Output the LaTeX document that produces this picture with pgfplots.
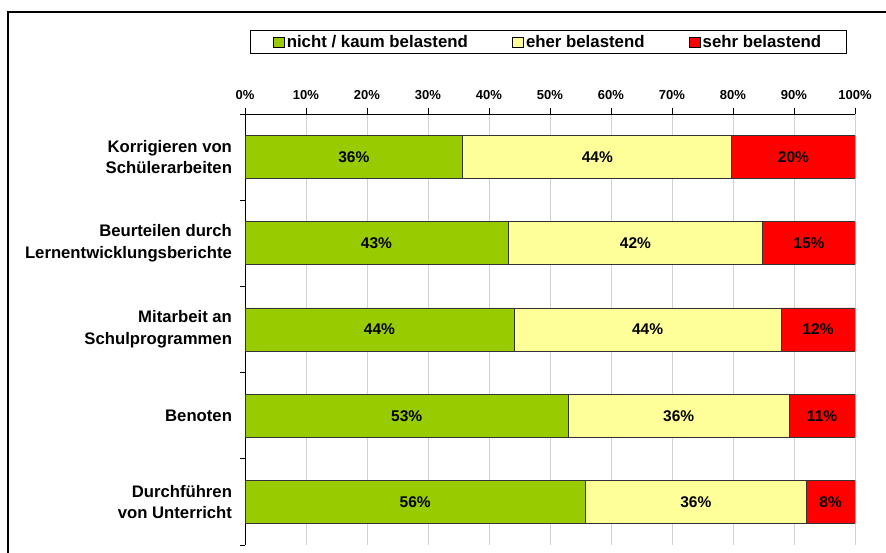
\documentclass[border=0pt]{standalone}
\usepackage{pgfplots}
\pgfplotsset{compat=1.18}
\usepackage{pgfplotstable}
\usepackage{fontspec}
\setmainfont{Liberation Sans}
\definecolor{cgreen}{HTML}{99CC00}
\definecolor{cyellow}{HTML}{FFFF99}
\definecolor{cred}{HTML}{FF0000}

\pgfplotstableread{
y green yellow red
0 35.7 44.1 20.2
1 43.1 41.8 15.1
2 44.1 43.8 12.1
3 53.0 36.2 10.8
4 55.8 36.2 8.0
}\data

\pgfplotstableread{
x y lab
17.85 0 36
57.75 0 44
89.9 0 20
21.55 1 43
64.0 1 42
92.45 1 15
22.05 2 44
66.0 2 44
93.95 2 12
26.5 3 53
71.1 3 36
94.6 3 11
27.9 4 56
73.9 4 36
96.0 4 8
}\labels

\pgfplotsset{
  common/.style={
    at={(245pt,8pt)}, anchor=south west,
    scale only axis, width=610pt, height=431pt,
    xmin=0, xmax=100, ymin=-0.5, ymax=4.5, y dir=reverse,
    enlargelimits=false,
  }
}

\begin{document}
\begin{tikzpicture}
\useasboundingbox (0,0) rectangle (886pt,553pt);
\draw[line width=2pt] (8pt,-2pt) -- (8pt,541pt) -- (890pt,541pt);
\begin{axis}[
  common,
  xbar stacked, bar width=0.5,
  axis x line*=top, axis y line*=left,
  axis line style={black, line width=0.8pt},
  major tick length=0pt, minor tick length=5.5pt,
  tick align=outside,
  tick style={black, line width=0.8pt},
  xtick={0,10,...,100},
  minor xtick={0,10,...,100},
  xticklabels={0\%,10\%,20\%,30\%,40\%,50\%,60\%,70\%,80\%,90\%,100\%},
  xticklabel style={font=\fontsize{13}{15}\selectfont\bfseries, yshift=11pt},
  ytick={0,1,2,3,4},
  minor ytick={-0.5,0.5,1.5,2.5,3.5,4.5},
  yticklabels={{Korrigieren von\\Schülerarbeiten},{Beurteilen durch\\Lernentwicklungsberichte},{Mitarbeit an\\Schulprogrammen},{Benoten},{Durchführen\\von Unterricht}},
  yticklabel style={align=right, font=\fontsize{16.7}{21.7}\selectfont\bfseries, xshift=-9.5pt},
  xmajorgrids, grid style={gray!35, line width=0.8pt},
  legend columns=3,
  legend cell align=left,
  legend style={at={(0.4975,1.167)}, anchor=center, draw=black, line width=0.8pt,
    font=\fontsize{16.8}{20}\selectfont\bfseries,
    inner xsep=23pt, inner ysep=3pt,
    /tikz/every even column/.append style={column sep=42pt},
    nodes={inner xsep=2.5pt}},
  legend image code/.code={\draw[#1,draw=black,line width=0.6pt] (0pt,-5pt) rectangle (10.5pt,5pt);},
]
\addplot[fill=cgreen, draw=black!80, line width=0.8pt] table[x=green,y=y]{\data};
\addplot[fill=cyellow, draw=black!80, line width=0.8pt] table[x=yellow,y=y]{\data};
\addplot[fill=cred, draw=black!80, line width=0.8pt] table[x=red,y=y]{\data};
\legend{nicht / kaum belastend, eher belastend, sehr belastend}
\end{axis}
\begin{axis}[common, hide axis]
\addplot[only marks, mark=*, mark size=0pt, mark options={draw=none,fill=none},
  point meta=explicit symbolic,
  nodes near coords={\pgfplotspointmeta\%},
  every node near coord/.append style={anchor=center, font=\fontsize{15.5}{18}\selectfont\bfseries, text=black}]
  table[x=x,y=y,meta=lab]{\labels};
\end{axis}
\end{tikzpicture}
\end{document}
